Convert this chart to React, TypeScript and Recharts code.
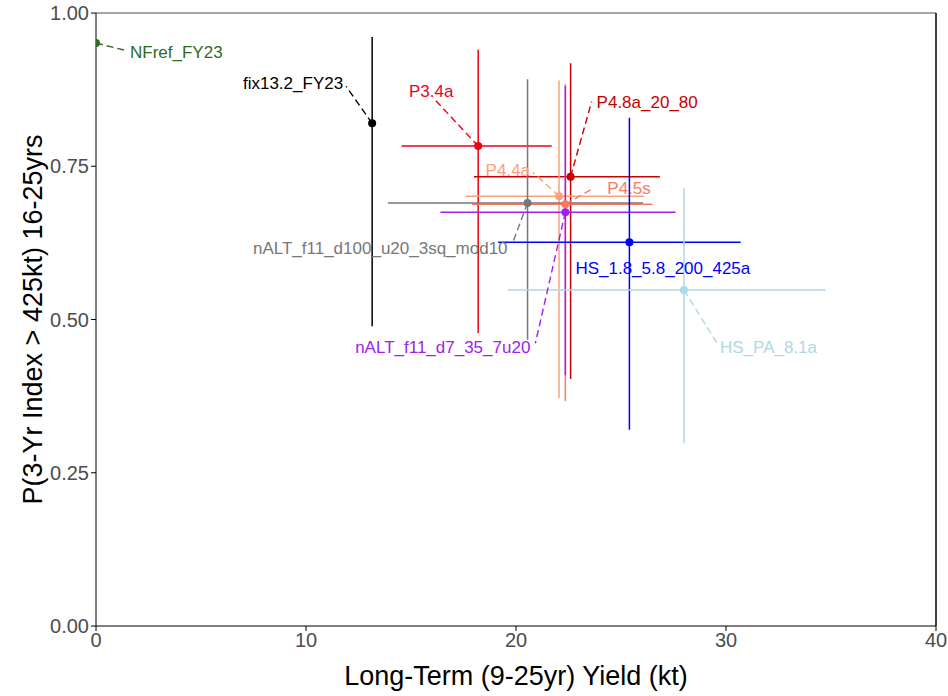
import { ScatterChart, Scatter, XAxis, YAxis, ErrorBar, ReferenceLine } from "recharts"

const names = [
  "NFref_FY23",
  "fix13.2_FY23",
  "P3.4a",
  "P4.8a_20_80",
  "P4.4a",
  "P4.5s",
  "nALT_f11_d100_u20_3sq_mod10",
  "nALT_f11_d7_35_7u20",
  "HS_1.8_5.8_200_425a",
  "HS_PA_8.1a",
]
const yieldMed = [0, 13.15, 18.2, 22.6, 22.05, 22.35, 20.55, 22.35, 25.4, 28.0]
const yieldLo = [0, 13.15, 14.55, 18.0, 17.6, 17.9, 13.9, 16.4, 19.15, 19.6]
const yieldHi = [0, 13.15, 21.7, 26.85, 26.1, 26.5, 26.05, 27.6, 30.7, 34.75]
const probMed = [0.951, 0.82, 0.783, 0.733, 0.701, 0.688, 0.69, 0.675, 0.626, 0.548]
const probLo = [0.951, 0.489, 0.478, 0.403, 0.372, 0.367, 0.467, 0.409, 0.32, 0.298]
const probHi = [0.951, 0.961, 0.94, 0.918, 0.89, 0.884, 0.892, 0.881, 0.829, 0.714]
const xTicks = [0, 10, 20, 30, 40]
const yTicks = [0, 0.25, 0.5, 0.75, 1]

// colours and label placement (pixel offsets from the point)
const colors: Record<string, string> = {
  NFref_FY23: "#2f6b22",
  "fix13.2_FY23": "#000000",
  "P3.4a": "#f00018",
  "P4.8a_20_80": "#c80000",
  "P4.4a": "#ffa07a",
  "P4.5s": "#fa7a66",
  nALT_f11_d100_u20_3sq_mod10: "#777777",
  nALT_f11_d7_35_7u20: "#a020f0",
  "HS_1.8_5.8_200_425a": "#0000ff",
  "HS_PA_8.1a": "#add8e6",
}

type Lab = { lx: number; ly: number; tx: number; ty: number; anchor: "start" | "middle" | "end"; line?: boolean }
const labels: Record<string, Lab> = {
  NFref_FY23: { lx: 28, ly: 7, tx: 34, ty: 9, anchor: "start" },
  "fix13.2_FY23": { lx: -26, ly: -37, tx: -29, ty: -40, anchor: "end" },
  "P3.4a": { lx: -43, ly: -46, tx: -47, ty: -55, anchor: "middle" },
  "P4.8a_20_80": { lx: 21, ly: -75, tx: 26, ty: -74, anchor: "start" },
  "P4.4a": { lx: -26, ly: -24, tx: -29, ty: -26, anchor: "end" },
  "P4.5s": { lx: 28, ly: -16, tx: 42, ty: -16, anchor: "start" },
  nALT_f11_d100_u20_3sq_mod10: { lx: -15, ly: 40, tx: -20, ty: 45, anchor: "end" },
  nALT_f11_d7_35_7u20: { lx: -30, ly: 131, tx: -35, ty: 135, anchor: "end" },
  "HS_1.8_5.8_200_425a": { lx: 0, ly: 0, tx: -54, ty: 26, anchor: "start", line: false },
  "HS_PA_8.1a": { lx: 33, ly: 53, tx: 36, ty: 57, anchor: "start" },
}

const series = names.map((name, i) => ({
  name,
  data: [
    {
      name,
      x: yieldMed[i],
      y: probMed[i],
      ex: [yieldMed[i] - yieldLo[i], yieldHi[i] - yieldMed[i]],
      ey: [probMed[i] - probLo[i], probHi[i] - probMed[i]],
    },
  ],
}))

const FONT = "'Liberation Sans', Arial, sans-serif"

function PointShape(props: any) {
  const { cx, cy, payload } = props
  const name = payload.name as string
  const c = colors[name]
  const l = labels[name]
  return (
    <g>
      {l.line !== false && (
        <line x1={cx} y1={cy} x2={cx + l.lx} y2={cy + l.ly} stroke={c} strokeWidth={1.4} strokeDasharray="7 4" />
      )}
      <circle cx={cx} cy={cy} r={4} fill={c} />
      <text
        x={cx + l.tx}
        y={cy + l.ty}
        textAnchor={l.anchor}
        dominantBaseline="central"
        fill={c}
        fontSize={17}
        fontFamily={FONT}
      >
        {name}
      </text>
    </g>
  )
}

export default function App() {
  return (
    <div style={{ position: "absolute", left: 0, top: 0, background: "#fff" }}>
      <ScatterChart width={948} height={696} margin={{ top: 13, right: 12, left: 0, bottom: 0 }}>
        <XAxis
          type="number"
          dataKey="x"
          domain={[0, 40]}
          ticks={xTicks}
          allowDataOverflow
          height={70}
          stroke="#000"
          tickSize={5}
          tick={{ fill: "#4d4d4d", fontSize: 20, fontFamily: FONT }}
          label={{ value: "Long-Term (9-25yr) Yield (kt)", position: "insideBottom", offset: 11, fill: "#000", fontSize: 27, fontFamily: FONT }}
        />
        <YAxis
          type="number"
          dataKey="y"
          domain={[0, 1]}
          ticks={yTicks}
          allowDataOverflow
          width={96}
          stroke="#000"
          tickSize={5}
          tickFormatter={(v: number) => v.toFixed(2)}
          tick={{ fill: "#4d4d4d", fontSize: 20, fontFamily: FONT }}
          label={{ value: "P(3-Yr Index > 425kt) 16-25yrs", angle: -90, position: "insideLeft", offset: 32, style: { textAnchor: "middle" }, fill: "#000", fontSize: 27, fontFamily: FONT }}
        />
        <ReferenceLine y={1} stroke="#888" strokeWidth={1.5} />
        <ReferenceLine x={40} stroke="#000" strokeWidth={1.5} />
        {series.map((s) => (
          <Scatter key={s.name} name={s.name} data={s.data} shape={PointShape} isAnimationActive={false}>
            <ErrorBar dataKey="ex" direction="x" width={0} stroke={colors[s.name]} strokeWidth={1.5} />
            <ErrorBar dataKey="ey" direction="y" width={0} stroke={colors[s.name]} strokeWidth={1.5} />
          </Scatter>
        ))}
      </ScatterChart>
    </div>
  )
}
